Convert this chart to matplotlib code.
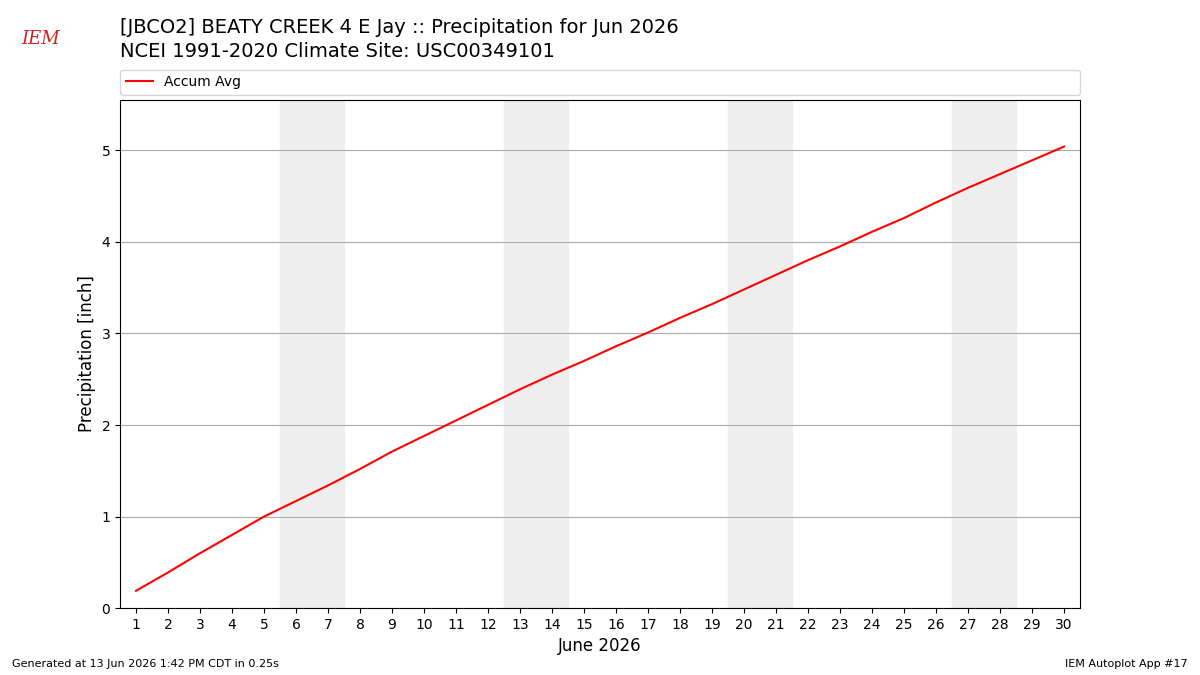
import matplotlib
matplotlib.use("Agg")
import matplotlib.pyplot as plt

days = list(range(1, 31))
accum_avg = [0.19, 0.39, 0.60, 0.80, 1.00, 1.17, 1.34, 1.52, 1.71, 1.88,
             2.05, 2.22, 2.39, 2.55, 2.70, 2.86, 3.01, 3.17, 3.32, 3.48,
             3.64, 3.80, 3.95, 4.11, 4.26, 4.43, 4.59, 4.74, 4.89, 5.04]
weekends = [(6, 7), (13, 14), (20, 21), (27, 28)]

fig = plt.figure(figsize=(12, 6.75), dpi=100)
ax = fig.add_axes([0.1, 0.099, 0.8, 0.753])
for a, b in weekends:
    ax.axvspan(a - 0.5, b + 0.5, color="#eeeeee", zorder=0)
ax.plot(days, accum_avg, color="red", label="Accum Avg", zorder=3)
ax.set_xlim(0.5, 30.5)
ax.set_ylim(0, 5.55)
ax.set_xticks(days)
ax.set_yticks([0, 1, 2, 3, 4, 5])
ax.grid(axis="y", color="#aaaaaa", zorder=1)
ax.set_axisbelow(True)
ax.set_xlabel("June 2026", fontsize=12)
ax.set_ylabel("Precipitation [inch]", fontsize=12)
ax.legend(loc="lower left", bbox_to_anchor=(0, 1.01, 1, 0.05), mode="expand",
          ncol=1, fontsize=10, borderaxespad=0)
fig.text(0.1, 0.945, "[JBCO2] BEATY CREEK 4 E Jay :: Precipitation for Jun 2026",
         fontsize=14, va="bottom")
fig.text(0.1, 0.91, "NCEI 1991-2020 Climate Site: USC00349101", fontsize=14, va="bottom")
fig.text(0.018, 0.935, "IEM", fontsize=13, color="#cc2222", style="italic", family="serif")
fig.text(0.01, 0.012, "Generated at 13 Jun 2026 1:42 PM CDT in 0.25s", fontsize=8)
fig.text(0.99, 0.012, "IEM Autoplot App #17", fontsize=8, ha="right")
fig.savefig("out.png", dpi=100)
